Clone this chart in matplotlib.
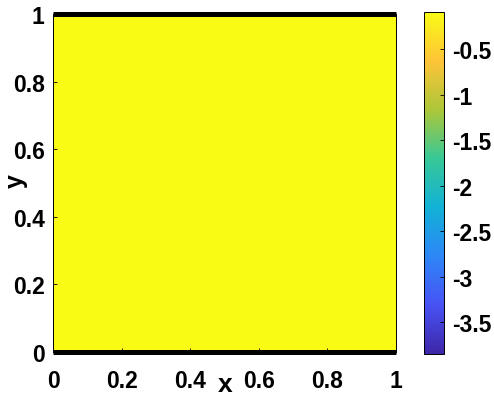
import numpy as np
import matplotlib.pyplot as plt
from matplotlib.colors import LinearSegmentedColormap

# Field data (uniform solution on the unit square)
x_edges = [0.0, 0.5, 1.0]
y_edges = [0.0, 0.5, 1.0]
field = [[-0.09, -0.09], [-0.09, -0.09]]
clim = (-3.85, -0.09)
boundary_y = [0.0, 1.0]

x_ticks = [0, 0.2, 0.4, 0.6, 0.8, 1]
x_tick_labels = ['0', '0.2', '0.4', '0.6', '0.8', '1']
cb_ticks = [-3.5, -3, -2.5, -2, -1.5, -1, -0.5]
cb_tick_labels = ['-3.5', '-3', '-2.5', '-2', '-1.5', '-1', '-0.5']

# MATLAB parula approximation
parula = LinearSegmentedColormap.from_list('parula', [
    (0.2422, 0.1504, 0.6603), (0.2810, 0.3228, 0.9579),
    (0.1786, 0.5289, 0.9682), (0.0689, 0.6948, 0.8394),
    (0.2161, 0.7843, 0.5923), (0.6720, 0.7793, 0.2227),
    (0.9970, 0.7659, 0.2199), (0.9769, 0.9839, 0.0805)])

plt.rcParams['font.family'] = ['Liberation Sans', 'DejaVu Sans']
plt.rcParams['font.weight'] = 'bold'
plt.rcParams['axes.unicode_minus'] = False

fig = plt.figure(figsize=(4.94, 4.02), dpi=100)
ax = fig.add_axes([0.1073, 0.1219, 0.6943, 0.8408])
cax = fig.add_axes([0.858, 0.1169, 0.0405, 0.8508])

mesh = ax.pcolormesh(x_edges, y_edges, np.array(field), cmap=parula,
                     vmin=clim[0], vmax=clim[1], shading='flat')
for yb in boundary_y:
    ax.plot([0, 1], [yb, yb], color='black', lw=3.6, solid_capstyle='butt',
            clip_on=False, zorder=3)

ax.set_xlim(0, 1)
ax.set_ylim(0, 1)
ax.set_xticks(x_ticks)
ax.set_xticklabels(x_tick_labels)
ax.set_yticks(x_ticks)
ax.set_yticklabels(x_tick_labels)
ax.tick_params(direction='in', length=3, width=0.6, labelsize=16.5)
ax.tick_params(axis='x', pad=12)
ax.tick_params(axis='y', pad=6)
for s in ax.spines.values():
    s.set_linewidth(0.7)
ax.set_xlabel('x', fontsize=19, fontweight='bold')
ax.set_ylabel('y', fontsize=18, fontweight='bold')
ax.xaxis.set_label_coords(0.501, -0.06)
ax.yaxis.set_label_coords(-0.072, 0.51)

cb = fig.colorbar(mesh, cax=cax)
cb.set_ticks(cb_ticks)
cb.set_ticklabels(cb_tick_labels)
cb.ax.tick_params(direction='in', length=3, width=0.6, labelsize=16.5, pad=6)
cb.outline.set_linewidth(0.7)

fig.savefig('out.png', dpi=100)
